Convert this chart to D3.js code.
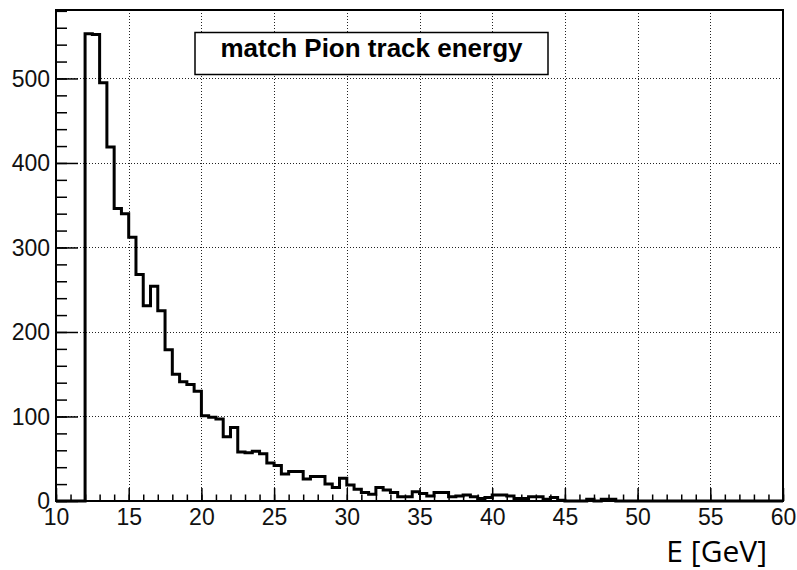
<!DOCTYPE html>
<html>
<head>
<meta charset="utf-8">
<script src="https://cdn.jsdelivr.net/npm/d3@7"></script>
<style>
  body { margin: 0; background: #fff; }
  svg { display: block; }
</style>
</head>
<body>
<div id="chart"></div>
<script>
// Histogram: 100 bins of 0.5 GeV from 10 to 60
const xDomain = [10, 60]
const yDomain = [0, 581]
const binWidth = 0.5
const counts = [
    0, 0, 0, 0,
    553, 552, 495, 419, 346, 340, 312, 268, 231, 254, 225, 179, 150, 141, 138, 130,
    101, 99, 97, 76, 87, 58, 57, 59, 56, 45, 42, 32, 35, 35, 26, 29,
    29, 20, 16, 27, 19, 14, 10, 8, 16, 13, 10, 5, 5, 11, 9, 6,
    10, 10, 5, 6, 7, 5, 3, 4, 7, 7, 6, 3, 3, 5, 5, 2,
    4, 1, 0, 0, 0, 2, 0, 2, 2, 0, 0, 0, 0, 0, 0, 0,
    0, 0, 0, 0, 0, 0, 0, 0, 0, 0, 0, 0, 0, 0, 0, 0,
]
const xTicks = [10, 15, 20, 25, 30, 35, 40, 45, 50, 55, 60]
const yTicks = [0, 100, 200, 300, 400, 500]
const titleText = 'match Pion track energy'
const xTitle = 'E [GeV]'

const width = 797, height = 570
const margin = {top: 10, right: 14, bottom: 69, left: 56}

const svg = d3.select('#chart').append('svg')
    .attr('width', width)
    .attr('height', height)

const x = d3.scaleLinear().domain(xDomain).range([margin.left, width - margin.right])
const y = d3.scaleLinear().domain(yDomain).range([height - margin.bottom, margin.top])

const bins = counts.map((c, i) => ({x0: xDomain[0] + i * binWidth, x1: xDomain[0] + (i + 1) * binWidth, n: c}))

// grid (dotted, at major ticks)
const grid = svg.append('g').attr('stroke', '#222').attr('stroke-width', 1)
    .attr('stroke-dasharray', '1,2')
grid.selectAll('.vgrid').data(xTicks.slice(1, -1)).join('line')
    .attr('x1', d => Math.round(x(d)) + 0.5).attr('x2', d => Math.round(x(d)) + 0.5)
    .attr('y1', y.range()[1]).attr('y2', y.range()[0])
grid.selectAll('.hgrid').data(yTicks.slice(1)).join('line')
    .attr('y1', d => Math.round(y(d)) + 0.5).attr('y2', d => Math.round(y(d)) + 0.5)
    .attr('x1', x.range()[0]).attr('x2', x.range()[1])

// axes: ticks pointing inward, like ROOT
const axisFont = 'Liberation Sans, Arial, sans-serif'
const yMajor = d3.axisLeft(y).tickValues(yTicks).tickSize(-22).tickPadding(6)
const yMinor = d3.axisLeft(y).tickValues(d3.range(0, 581, 20)).tickSize(-11).tickFormat('')
const xMajor = d3.axisBottom(x).tickValues(xTicks).tickSize(-13).tickPadding(6)
const xMinor = d3.axisBottom(x).tickValues(d3.range(10, 61, 1)).tickSize(-6.5).tickFormat('')

function styleAxis(g) {
    g.select('.domain').remove()
    g.selectAll('.tick line').attr('stroke', '#000').attr('stroke-width', 1.5)
    g.selectAll('.tick text').attr('fill', '#111')
        .style('font-family', axisFont).style('font-size', '23px')
}

svg.append('g').attr('transform', `translate(${margin.left},0)`).call(yMinor).call(styleAxis)
svg.append('g').attr('transform', `translate(${margin.left},0)`).call(yMajor).call(styleAxis)
    .selectAll('.tick text').attr('dy', '0.34em')
svg.append('g').attr('transform', `translate(0,${y(0)})`).call(xMinor).call(styleAxis)
svg.append('g').attr('transform', `translate(0,${y(0)})`).call(xMajor).call(styleAxis)
    .selectAll('.tick text').attr('dy', '0.8em')

// histogram outline
const pts = []
bins.forEach(b => { pts.push([b.x0, b.n]); pts.push([b.x1, b.n]) })
const line = d3.line().x(d => x(d[0])).y(d => y(d[1]))
svg.append('path')
    .datum(pts)
    .attr('fill', 'none')
    .attr('stroke', '#000')
    .attr('stroke-width', 3)
    .attr('d', line)

// frame
svg.append('rect')
    .attr('x', x.range()[0]).attr('y', y.range()[1])
    .attr('width', x.range()[1] - x.range()[0])
    .attr('height', y.range()[0] - y.range()[1])
    .attr('fill', 'none').attr('stroke', '#000').attr('stroke-width', 2)

// title box
const tb = svg.append('g')
tb.append('rect')
    .attr('x', 195).attr('y', 32.5).attr('width', 353).attr('height', 42)
    .attr('fill', '#fff').attr('stroke', '#000').attr('stroke-width', 1.5)
tb.append('text')
    .attr('x', 371.5).attr('y', 57)
    .attr('text-anchor', 'middle')
    .style('font-family', axisFont).style('font-weight', 'bold').style('font-size', '26px')
    .text(titleText)

// x axis title
svg.append('text')
    .attr('x', 767).attr('y', 562)
    .attr('text-anchor', 'end')
    .style('font-family', 'Open Sans, sans-serif').style('font-size', '30px')
    .text(xTitle)
</script>
</body>
</html>
